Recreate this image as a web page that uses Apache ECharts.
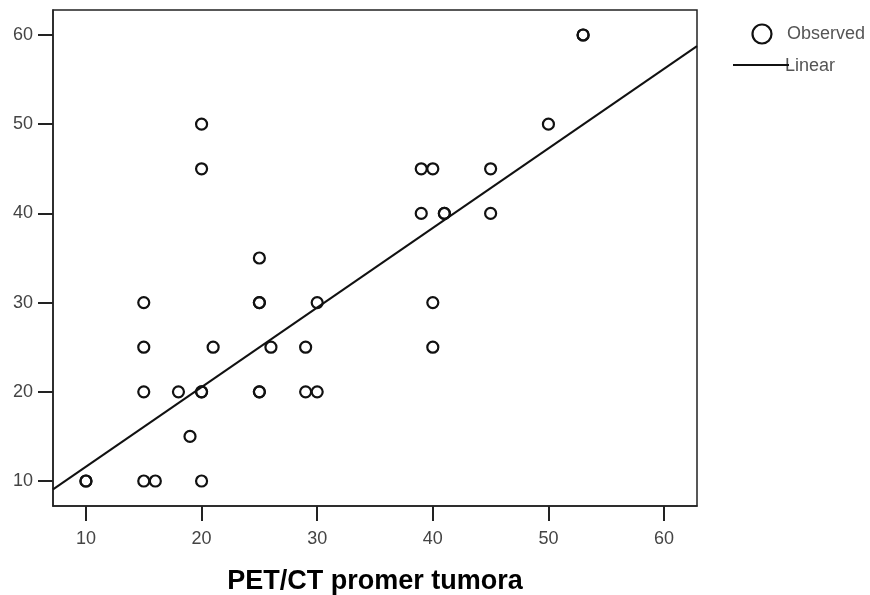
<!DOCTYPE html>
<html lang="en">
<head>
    <meta charset="utf-8">
    <title>PET/CT promer tumora</title>
    <style>
        body { margin: 0; background: #fff; }
        #chart { width: 870px; height: 595px; }
    </style>
</head>
<body>
    <div id="chart"></div>
    <script src="https://cdn.jsdelivr.net/npm/echarts@6/dist/echarts.min.js"></script>
    <script>
        // observed points (duplicates are repeated observations)
        var obsX = [10, 10, 15, 16, 20, 19, 15, 18, 20, 20, 25, 25, 29, 30,
                    15, 21, 26, 29, 40, 15, 25, 25, 30, 40, 25,
                    39, 41, 41, 45, 39, 40, 45, 20, 20, 50, 53, 53];
        var obsY = [10, 10, 10, 10, 10, 15, 20, 20, 20, 20, 20, 20, 20, 20,
                    25, 25, 25, 25, 25, 30, 30, 30, 30, 30, 35,
                    40, 40, 40, 40, 45, 45, 45, 45, 50, 50, 60, 60];

        // linear fit, read at the plot edges
        var fitX = [7.15, 62.85];
        var fitY = [9.07, 58.75];

        var ticks = [10, 20, 30, 40, 50, 60];

        var chart = echarts.init(document.getElementById('chart'), null, { renderer: 'canvas' });

        var axisCommon = {
            type: 'value',
            splitLine: { show: false },
            axisLine: { show: true, lineStyle: { color: '#222', width: 1.5 } },
            axisTick: { show: true, customValues: ticks, length: 15, lineStyle: { color: '#222', width: 2 } },
            axisLabel: {
                customValues: ticks,
                color: '#444',
                fontSize: 18,
                fontFamily: 'Liberation Sans'
            }
        };

        chart.setOption({
            animation: false,
            grid: {
                left: 53, right: 173, top: 10, bottom: 89,
                outerBoundsMode: 'none',
                containLabel: false,
                show: true, borderColor: '#222', borderWidth: 1.5
            },
            xAxis: Object.assign({}, axisCommon, {
                min: 7.15, max: 62.85,
                name: 'PET/CT promer tumora',
                nameLocation: 'middle',
                nameGap: 62,
                nameTextStyle: { color: '#000', fontSize: 27, fontWeight: 'bold', fontFamily: 'Liberation Sans' },
                axisLabel: Object.assign({}, axisCommon.axisLabel, { margin: 24 })
            }),
            yAxis: Object.assign({}, axisCommon, {
                min: 7.2, max: 62.8,
                axisLabel: Object.assign({}, axisCommon.axisLabel, { margin: 20 })
            }),
            series: [
                {
                    type: 'line',
                    data: fitX.map(function (x, i) { return [x, fitY[i]]; }),
                    symbol: 'none',
                    lineStyle: { color: '#111', width: 2 },
                    z: 2
                },
                {
                    type: 'scatter',
                    data: obsX.map(function (x, i) { return [x, obsY[i]]; }),
                    symbol: 'circle',
                    symbolSize: 11,
                    itemStyle: { color: 'rgba(0,0,0,0)', borderColor: '#111', borderWidth: 2.2, opacity: 1 },
                    z: 3
                }
            ],
            graphic: [
                { type: 'circle', shape: { cx: 762, cy: 34, r: 9.5 }, style: { fill: 'none', stroke: '#111', lineWidth: 2.2 } },
                { type: 'text', x: 787, y: 34, style: { text: 'Observed', fill: '#555', fontSize: 18, fontFamily: 'Liberation Sans', verticalAlign: 'middle' } },
                { type: 'line', shape: { x1: 733, y1: 65, x2: 789, y2: 65 }, style: { stroke: '#111', lineWidth: 1.8 }, z: 10 },
                { type: 'text', x: 785, y: 66, style: { text: 'Linear', fill: '#555', fontSize: 18, fontFamily: 'Liberation Sans', verticalAlign: 'middle' } }
            ]
        });
    </script>
</body>
</html>
